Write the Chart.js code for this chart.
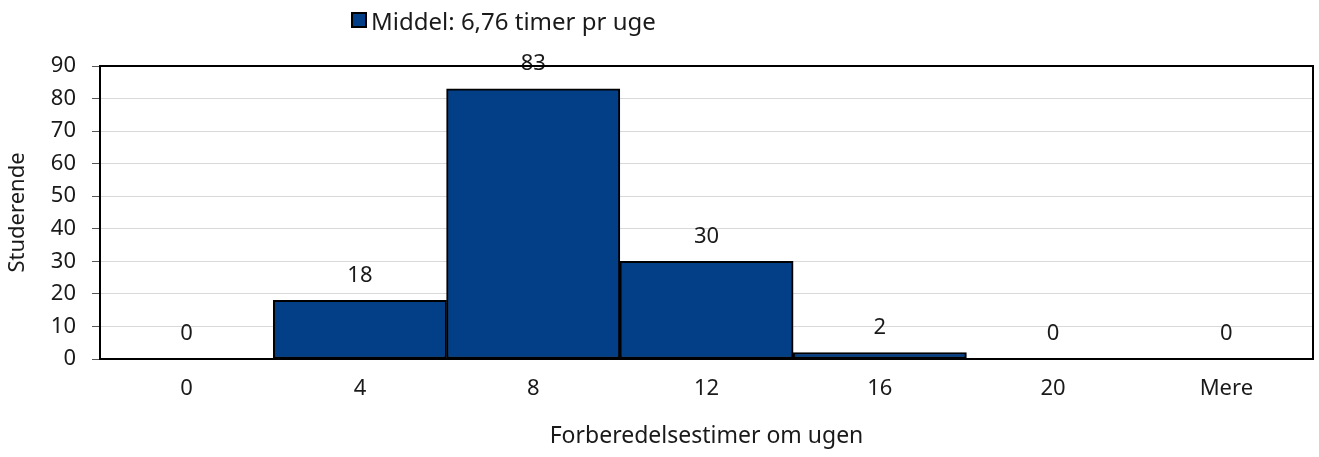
<!DOCTYPE html>
<html>
<head>
<meta charset="utf-8">
<script src="https://cdn.jsdelivr.net/npm/chart.js@4"></script>
<style>
  html, body { margin: 0; padding: 0; background: #fff; }
  #wrap { position: relative; width: 1319px; height: 457px; }
  #legend {
    position: absolute; left: 351px; top: 5px; height: 30px; line-height: 30px;
    font: 24px "Noto Sans", sans-serif; color: #1a1a1a;
    display: flex; align-items: center; white-space: nowrap;
  }
  #legend .box {
    width: 12px; height: 12px; background: #023F87;
    border: 2px solid #000; margin-right: 4px;
  }
</style>
</head>
<body>
<div id="wrap">
  <canvas id="chart" width="1319" height="457"></canvas>
  <div id="legend"><span class="box"></span><span id="legend-text"></span></div>
</div>
<script>
// --- DATA ---
const categories = ['0', '4', '8', '12', '16', '20', 'Mere'];
const students = [0, 18, 83, 30, 2, 0, 0];
const seriesName = 'Middel: 6,76 timer pr uge';
const yTicks = [0, 10, 20, 30, 40, 50, 60, 70, 80, 90];

const FONT = '"Noto Sans", sans-serif';
const TEXT = '#1a1a1a';
const SIZE = 22;

document.getElementById('legend-text').textContent = seriesName;

// value labels above each bar
const barLabels = {
    id: 'barLabels',
    afterDatasetsDraw(chart) {
        const ctx = chart.ctx;
        const meta = chart.getDatasetMeta(0);
        ctx.save();
        ctx.font = SIZE + 'px ' + FONT;
        ctx.fillStyle = TEXT;
        ctx.textAlign = 'center';
        ctx.textBaseline = 'middle';
        meta.data.forEach((bar, i) => {
            ctx.fillText(String(students[i]), bar.x, bar.y - 25);
        });
        ctx.restore();
    }
};

// black frame around plot area
const plotFrame = {
    id: 'plotFrame',
    afterDraw(chart) {
        const { left, top, right, bottom } = chart.chartArea;
        const ctx = chart.ctx;
        ctx.save();
        ctx.strokeStyle = '#000';
        ctx.lineWidth = 2;
        ctx.strokeRect(left, top, right - left, bottom - top);
        ctx.restore();
    }
};

new Chart(document.getElementById('chart'), {
    type: 'bar',
    data: {
        labels: categories,
        datasets: [{
            label: seriesName,
            data: students,
            backgroundColor: '#023F87',
            borderColor: '#000',
            borderWidth: 2,
            borderSkipped: false,
            barPercentage: 1,
            categoryPercentage: 1
        }]
    },
    options: {
        responsive: false,
        animation: false,
        layout: { padding: { top: 66, right: 6, left: 0, bottom: 0 } },
        plugins: {
            legend: { display: false },
            tooltip: { enabled: false }
        },
        scales: {
            x: {
                grid: { display: false, drawTicks: false },
                border: { color: '#000', width: 2 },
                ticks: { color: TEXT, font: { family: FONT, size: SIZE }, padding: 17 },
                title: {
                    display: true, text: 'Forberedelsestimer om ugen',
                    color: TEXT, font: { family: FONT, size: 23 },
                    padding: { top: 0, bottom: 7 }
                },
                afterFit(scale) { scale.height = 98; }
            },
            y: {
                min: 0, max: 90,
                afterBuildTicks(scale) { scale.ticks = yTicks.map(v => ({ value: v })); },
                grid: { color: '#d9d9d9', tickColor: '#555', tickLength: 8 },
                border: { color: '#000', width: 2 },
                ticks: { color: TEXT, font: { family: FONT, size: SIZE }, padding: 16 },
                title: {
                    display: true, text: 'Studerende',
                    color: TEXT, font: { family: FONT, size: SIZE },
                    padding: { top: 5, bottom: 0 }
                },
                afterFit(scale) { scale.width = 100; }
            }
        }
    },
    plugins: [barLabels, plotFrame]
});
</script>
</body>
</html>
